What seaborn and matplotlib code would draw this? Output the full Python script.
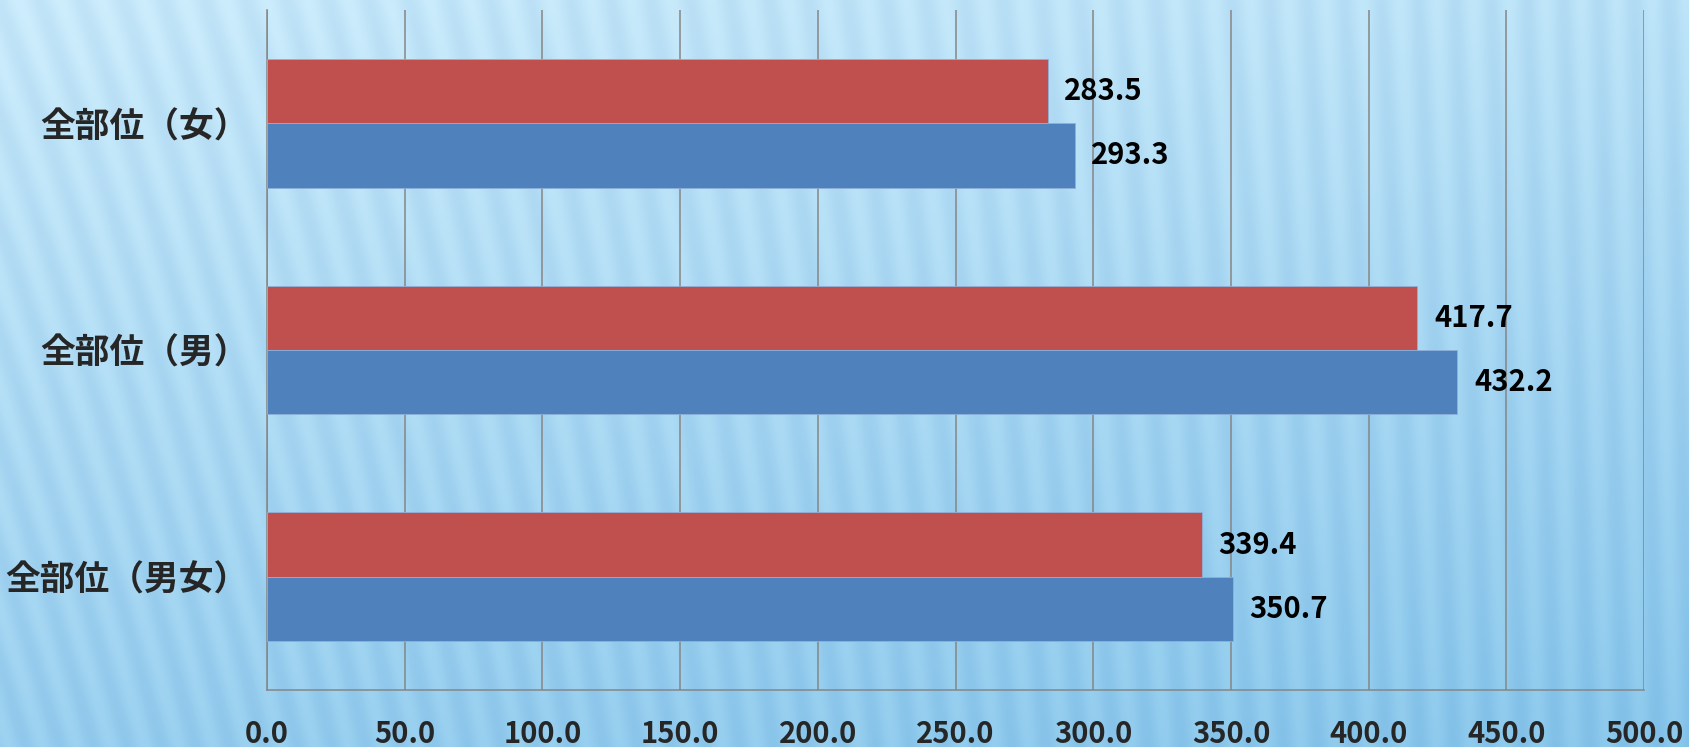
import matplotlib.pyplot as plt
import seaborn as sns
import pandas as pd
import numpy as np

# data
categories = ["全部位（女）", "全部位（男）", "全部位（男女）"]
series_names = ["red", "blue"]
red_values = [283.5, 417.7, 339.4]
blue_values = [293.3, 432.2, 350.7]
x_ticks = [0, 50, 100, 150, 200, 250, 300, 350, 400, 450, 500]

W, H = 1689, 747


def make_background(w, h):
    """Light blue gradient with soft slanted stripes (decoration only)."""
    yy, xx = np.mgrid[0:h, 0:w].astype(float)
    top = np.array([200, 233, 250]) / 255
    bottom = np.array([134, 196, 234]) / 255
    t = np.clip(0.75 * yy / h + 0.25 * xx / w, 0, 1)[..., None]
    img = top * (1 - t) + bottom * t
    slant = 0.28 * (1 - xx / w) ** 1.5 + 0.03
    phase = (xx + (h - yy) * slant) / 34.0
    stripe = np.sin(2 * np.pi * phase)
    img = img + 0.025 * stripe[..., None] * np.array([1.0, 0.8, 0.4])
    return np.clip(img, 0, 1)


df = pd.DataFrame({
    "category": categories * 2,
    "series": [series_names[0]] * 3 + [series_names[1]] * 3,
    "value": red_values + blue_values,
})

sns.set_style("white")
plt.rcParams["font.family"] = ["Noto Sans CJK JP", "DejaVu Sans"]

fig = plt.figure(figsize=(W / 100, H / 100), dpi=100)

bg = fig.add_axes([0, 0, 1, 1], zorder=-10)
bg.imshow(make_background(W, H), aspect="auto", interpolation="bilinear")
bg.axis("off")

ax = fig.add_axes([267 / W, 1 - 690 / H, (1644 - 267) / W, 680 / H])
ax.patch.set_alpha(0)

sns.barplot(
    data=df, y="category", x="value", hue="series",
    order=categories, hue_order=series_names,
    palette={"red": "#C0504D", "blue": "#4F81BD"},
    saturation=1, orient="h", width=0.567, gap=0, legend=False,
    edgecolor="#8FB0DA", linewidth=0.6, ax=ax, zorder=3,
)

for container in ax.containers:
    ax.bar_label(container, fmt="%.1f", padding=12,
                 fontsize=21, fontweight="bold", color="black")

ax.set_xlim(0, 500)
ax.set_ylim(2.5, -0.5)
ax.set_xticks(x_ticks)
ax.set_xticklabels([f"{v:.1f}" for v in x_ticks])
ax.grid(axis="x", color="#868686", linewidth=1.1, zorder=0)
ax.set_axisbelow(True)
ax.set_xlabel("")
ax.set_ylabel("")

for side in ["top", "right"]:
    ax.spines[side].set_visible(False)
for side in ["left", "bottom"]:
    ax.spines[side].set_color("#868686")
    ax.spines[side].set_linewidth(1.1)

ax.tick_params(axis="x", length=0, pad=21)
ax.tick_params(axis="y", length=0, pad=13)
for lbl in ax.get_xticklabels():
    lbl.set_fontsize(21)
    lbl.set_fontweight("bold")
for lbl in ax.get_yticklabels():
    lbl.set_fontsize(25)
    lbl.set_fontweight("bold")

plt.savefig("out.png", dpi=100)
plt.close()
